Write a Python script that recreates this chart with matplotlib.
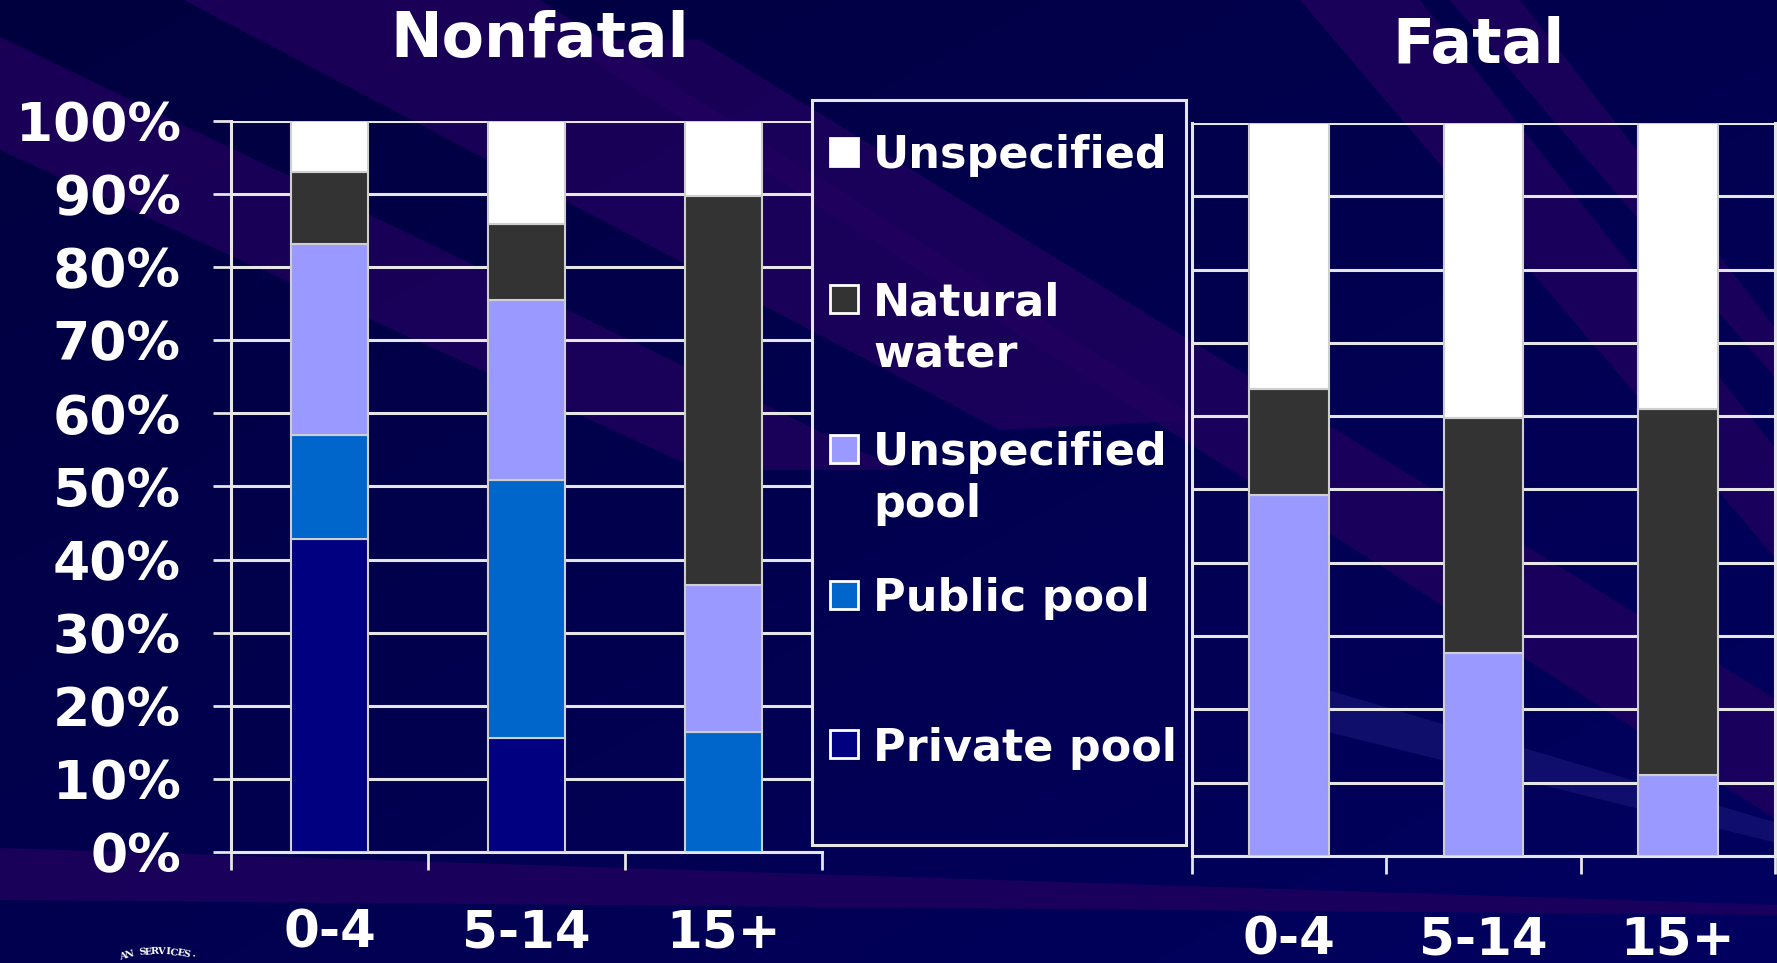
import numpy as np
import matplotlib.pyplot as plt
from matplotlib.patches import Polygon, Rectangle

ages = ["0-4", "5-14", "15+"]
places = ["Private pool", "Public pool", "Unspecified pool", "Natural water", "Unspecified"]
place_colors = ["#000080", "#0066CC", "#9999FF", "#333333", "#FFFFFF"]

# percent of cases by place, stacked bottom to top
nonfatal_private = [42.8, 15.6, 0.0]
nonfatal_public = [14.2, 35.3, 16.4]
nonfatal_unspec_pool = [26.2, 24.6, 20.1]
nonfatal_natural = [9.8, 10.4, 53.2]
nonfatal_unspecified = [7.0, 14.1, 10.3]

fatal_private = [0.0, 0.0, 0.0]
fatal_public = [0.0, 0.0, 0.0]
fatal_unspec_pool = [49.3, 27.7, 11.1]
fatal_natural = [14.4, 32.1, 49.9]
fatal_unspecified = [36.3, 40.2, 39.0]

pct_ticks = list(range(0, 101, 10))

W, H = 1777, 963
plt.rcParams['font.family'] = ['DejaVu Sans']
plt.rcParams['font.weight'] = 'bold'

fig = plt.figure(figsize=(W / 100, H / 100), dpi=100)
fig.patch.set_facecolor("#020058")

# slide background: dark navy with purple light streaks
bg = fig.add_axes([0, 0, 1, 1], zorder=-10)
bg.set_xlim(0, W)
bg.set_ylim(H, 0)
bg.axis("off")
yy, xx = np.mgrid[0:H:4, 0:W:4]
shade = np.clip((xx / W * 0.5 + yy / H * 0.5), 0, 1)
c0 = np.array([1, 0, 62]) / 255
c1 = np.array([2, 0, 96]) / 255
img = c0[None, None, :] * (1 - shade[..., None]) + c1[None, None, :] * shade[..., None]
bg.imshow(img, extent=[0, W, H, 0], aspect="auto", zorder=0)

streaks = [
    [(0, 37), (0, 150), (700, 470), (900, 470)],
    [(184, 0), (540, 0), (1200, 420), (1000, 430)],
    [(560, 40), (700, 40), (1777, 700), (1777, 820)],
    [(1300, 0), (1420, 0), (1777, 450), (1777, 560)],
    [(1450, 0), (1520, 0), (1777, 330), (1777, 380)],
    [(0, 848), (1777, 905), (1777, 915), (0, 900)],
]
for pts in streaks:
    bg.add_patch(Polygon(pts, closed=True, facecolor="#22005e", alpha=0.75,
                         edgecolor="none", zorder=1))
bg.add_patch(Polygon([(1328, 690), (1777, 823), (1777, 843), (1328, 732)],
                     closed=True, facecolor="#2a2a90", alpha=0.35,
                     edgecolor="none", zorder=1))

# seal lettering along an arc, bottom left
seal = "AN SERVICES\u00b7"
cx, cy, r = 158, 1078, 122
step = 2.9
for i, ch in enumerate(seal):
    ang = np.deg2rad(90 + step * (len(seal) - 1) / 2 - i * step)
    bg.text(cx + r * np.cos(ang), cy - r * np.sin(ang), ch, fontsize=7,
            family="DejaVu Serif", color="white", rotation=np.rad2deg(ang) - 90,
            ha="center", va="bottom", rotation_mode="anchor", zorder=2)

line_c = "#e6e6e6"


def stacked(ax, series, width):
    x = np.arange(len(ages))
    bottom = np.zeros(len(ages))
    for vals, col in zip(series, place_colors):
        ax.bar(x, vals, width, bottom=bottom, color=col, edgecolor="#cfcfcf",
               linewidth=1.5, zorder=3)
        bottom += np.array(vals)


def style(ax, grid_right, pad):
    ax.set_facecolor("none")
    ax.set_xlim(-0.5, 2.5)
    ax.set_ylim(0, 100)
    ax.hlines(pct_ticks, -0.5, grid_right, colors=line_c, linewidth=2.2, zorder=1)
    for s in ["top", "right", "bottom", "left"]:
        ax.spines[s].set_color(line_c)
        ax.spines[s].set_linewidth(2.2)
    ax.spines["top"].set_visible(False)
    ax.set_xticks(range(len(ages)))
    ax.set_xticklabels(ages)
    ax.set_xticks([-0.5, 0.5, 1.5, 2.5], minor=True)
    ax.tick_params(axis="x", which="major", length=0, pad=pad, labelsize=37,
                   labelcolor="white")
    ax.tick_params(axis="x", which="minor", length=13, width=2, color=line_c,
                   direction="out")


# nonfatal panel
ax1 = fig.add_axes([231 / W, 1 - 852 / H, 591 / W, 731 / H])
stacked(ax1, [nonfatal_private, nonfatal_public, nonfatal_unspec_pool,
              nonfatal_natural, nonfatal_unspecified], 0.39)
style(ax1, -0.5 + 3 * (812 - 231) / 591, 41)
ax1.spines["right"].set_visible(False)
ax1.set_yticks(pct_ticks)
ax1.set_yticklabels([f"{v}%" for v in pct_ticks])
ax1.tick_params(axis="y", length=13, width=2, color=line_c, pad=23,
                labelsize=38.5, labelcolor="white")

# fatal panel
ax2 = fig.add_axes([1192 / W, 1 - 856 / H, 583 / W, 733 / H])
stacked(ax2, [fatal_private, fatal_public, fatal_unspec_pool,
              fatal_natural, fatal_unspecified], 0.41)
style(ax2, 2.5, 43)
ax2.set_yticks(pct_ticks)
ax2.tick_params(axis="y", length=0, labelleft=False)

fig.text(540 / W, 1 - 57 / H, "Nonfatal", ha="center", va="baseline",
         fontsize=44.5, color="white", fontweight="bold")
fig.text(1479 / W, 1 - 63 / H, "Fatal", ha="center", va="baseline",
         fontsize=44.5, color="white", fontweight="bold")

# legend box, drawn on a transparent overlay in pixel units
lg = fig.add_axes([0, 0, 1, 1], zorder=10)
lg.set_xlim(0, W)
lg.set_ylim(H, 0)
lg.axis("off")
lg.patch.set_alpha(0)
lg.add_patch(Rectangle((812, 100), 374, 745, facecolor="none",
                       edgecolor=line_c, linewidth=2.2))
legend_rows = [
    ("Unspecified", ["Unspecified"], 152, [168]),
    ("Natural water", ["Natural", "water"], 299, [315, 367]),
    ("Unspecified pool", ["Unspecified", "pool"], 449, [465, 517]),
    ("Public pool", ["Public pool"], 595, [611]),
    ("Private pool", ["Private pool"], 744, [761]),
]
for name, lines, ym, bases in legend_rows:
    col = place_colors[places.index(name)]
    lg.add_patch(Rectangle((830, ym - 14), 28, 28, facecolor=col,
                           edgecolor="white", linewidth=2))
    for txt, yb in zip(lines, bases):
        lg.text(873, yb, txt, fontsize=32, color="white", fontweight="bold",
                va="baseline", ha="left")

fig.savefig("out.png", dpi=100, facecolor=fig.get_facecolor())
